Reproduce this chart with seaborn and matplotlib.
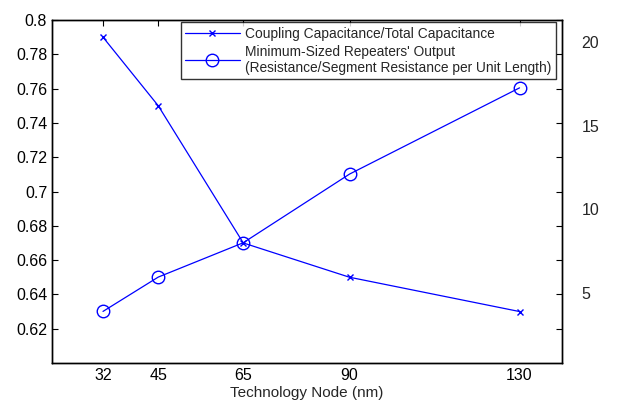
import pandas as pd
import numpy as np
import seaborn as sns
import matplotlib.pyplot as plt
from matplotlib.lines import Line2D

# data
nodes = [32, 45, 65, 90, 130]
coupling_ratio = [0.79, 0.75, 0.67, 0.65, 0.63]
repeater_ratio = [3.9, 5.95, 8.0, 12.1, 17.25]

lbl1 = 'Coupling Capacitance/Total Capacitance'
lbl2 = "Minimum-Sized Repeaters' Output\n(Resistance/Segment Resistance per Unit Length)"

df1 = pd.DataFrame({'node': nodes, 'value': coupling_ratio})
df2 = pd.DataFrame({'node': nodes, 'value': repeater_ratio})

sns.set_style('white')
plt.rcParams['font.family'] = ['Liberation Sans', 'DejaVu Sans']

fig = plt.figure(figsize=(6.19, 4.03), dpi=100)
ax1 = fig.add_axes([0.084, 0.0993, 0.824, 0.851])
ax2 = ax1.twinx()

blue = '#0000ff'
sns.lineplot(data=df1, x='node', y='value', ax=ax1, color=blue, linewidth=0.9,
             marker='x', markersize=5, markeredgewidth=1, markeredgecolor=blue)
sns.lineplot(data=df2, x='node', y='value', ax=ax2, color=blue, linewidth=0.9,
             marker='o', markersize=9, markerfacecolor='none',
             markeredgecolor=blue, markeredgewidth=1)

ax1.set_xlim(20, 140)
ax1.set_ylim(0.6, 0.8)
ax2.set_ylim(0.82, 21.3)
ax1.set_xticks(nodes)
ax1.set_yticks(np.round(np.arange(0.62, 0.801, 0.02), 2))
ax1.set_yticklabels(['0.62', '0.64', '0.66', '0.68', '0.7', '0.72', '0.74',
                     '0.76', '0.78', '0.8'])
ax2.set_yticks([5, 10, 15, 20])

ax1.tick_params(axis='both', direction='in', length=4, width=0.8,
                labelsize=11.5, top=True, right=True, colors='black')
ax2.tick_params(axis='y', length=0, labelsize=11.5, pad=14)

ax1.set_xlabel('Technology Node (nm)', fontsize=11, labelpad=2)
ax1.set_ylabel('')
ax2.set_ylabel('')

for ax in (ax1, ax2):
    for s in ax.spines.values():
        s.set_color('black')
        s.set_linewidth(1.0)

handles = [
    Line2D([], [], color=blue, linewidth=0.9, marker='x', markersize=5),
    Line2D([], [], color=blue, linewidth=0.9, marker='o', markersize=9,
           markerfacecolor='none'),
]
leg = ax2.legend(handles, [lbl1, lbl2], loc='upper right',
                 bbox_to_anchor=(0.988, 0.993), borderaxespad=0,
                 fontsize=9.9, frameon=True, fancybox=False, edgecolor='black',
                 handlelength=4.0, handletextpad=0.4, borderpad=0.3,
                 labelspacing=0.3)
leg.get_frame().set_linewidth(1.0)

fig.savefig('out.png', dpi=100)
